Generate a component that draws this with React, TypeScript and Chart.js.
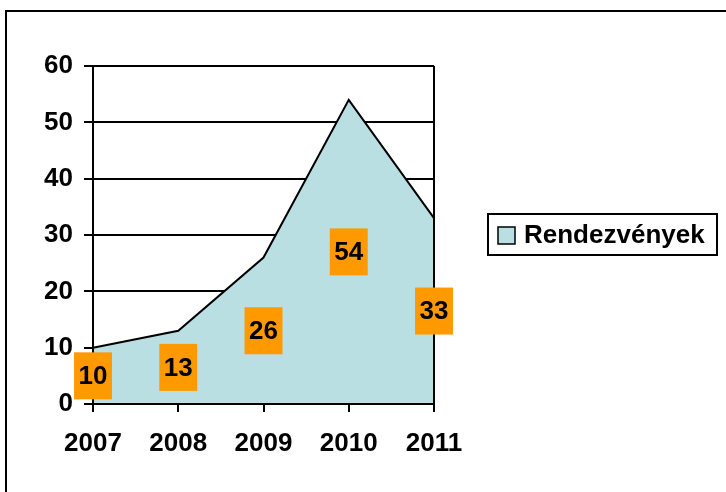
import React, { useEffect, useRef } from "react";
import { Chart, registerables } from "chart.js";

Chart.register(...registerables);

const categories = ["2007", "2008", "2009", "2010", "2011"];
const seriesName = "Rendezvények";
const values = [10, 13, 26, 54, 33];
const yTicks = [0, 10, 20, 30, 40, 50, 60];

const FONT = "'Liberation Sans', Arial, sans-serif";
const FILL = "#BADFE2";
const ORANGE = "#FF9900";

export default function App() {
  const ref = useRef<HTMLCanvasElement | null>(null);

  useEffect(() => {
    document.body.style.margin = "0";
    const canvas = ref.current!;
    const decor = {
      id: "decor",
      beforeDraw(chart: any) {
        const ctx = chart.ctx;
        ctx.save();
        ctx.fillStyle = "#fff";
        ctx.fillRect(0, 0, chart.width, chart.height);
        ctx.restore();
      },
      afterDatasetsDraw(chart: any) {
        const ctx = chart.ctx;
        const a = chart.chartArea;
        const ys = chart.scales.y;
        ctx.save();
        // axes and right border
        ctx.strokeStyle = "#000";
        ctx.lineWidth = 2;
        ctx.beginPath();
        ctx.moveTo(a.left, a.top);
        ctx.lineTo(a.left, a.bottom);
        ctx.lineTo(a.right, a.bottom);
        ctx.moveTo(a.right, a.top);
        ctx.lineTo(a.right, a.bottom);
        ctx.stroke();
        // data labels
        const meta = chart.getDatasetMeta(0);
        ctx.font = `bold 26px ${FONT}`;
        ctx.textAlign = "center";
        ctx.textBaseline = "middle";
        meta.data.forEach((pt: any, i: number) => {
          const v = values[i];
          const cx = pt.x;
          const cy = ys.getPixelForValue(v / 2);
          const txt = String(v);
          const w = ctx.measureText(txt).width + 9;
          const h = 47;
          ctx.fillStyle = ORANGE;
          ctx.fillRect(cx - w / 2, cy - h / 2, w, h);
          ctx.fillStyle = "#000";
          ctx.fillText(txt, cx, cy + 1);
        });
        // outer border
        ctx.lineWidth = 2;
        ctx.strokeRect(6, 11, 900, 700);
        // legend
        ctx.strokeRect(488, 214, 229, 41);
        ctx.fillStyle = FILL;
        ctx.fillRect(498, 227, 17, 17);
        ctx.lineWidth = 1.5;
        ctx.strokeRect(498, 227, 17, 17);
        ctx.fillStyle = "#000";
        ctx.textAlign = "left";
        ctx.textBaseline = "middle";
        ctx.fillText(seriesName, 524, 236);
        ctx.restore();
      },
    };

    const chart = new Chart(canvas, {
      type: "line",
      data: {
        labels: categories,
        datasets: [
          {
            label: seriesName,
            data: values,
            borderColor: "#000",
            borderWidth: 2,
            backgroundColor: FILL,
            fill: "origin",
            tension: 0,
            pointRadius: 0,
          },
        ],
      },
      options: {
        responsive: false,
        animation: false,
        layout: { padding: { top: 66, right: 292, left: 0, bottom: 0 } },
        plugins: { legend: { display: false }, tooltip: { enabled: false } },
        scales: {
          x: {
            offset: false,
            afterFit: (s: any) => {
              s.height = 88;
            },
            grid: {
              drawOnChartArea: false,
              drawTicks: true,
              tickLength: 8,
              tickColor: "#000",
              tickWidth: 2,
              color: "#000",
              lineWidth: 2,
            },
            border: { display: false },
            ticks: {
              color: "#000",
              font: { family: FONT, size: 26, weight: "bold" },
              padding: 16,
              maxRotation: 0,
            },
          },
          y: {
            min: 0,
            max: 60,
            afterFit: (s: any) => {
              s.width = 93;
            },
            afterBuildTicks: (s: any) => {
              s.ticks = yTicks.map((v) => ({ value: v }));
            },
            grid: {
              color: "#000",
              lineWidth: 2,
              drawTicks: true,
              tickLength: 9,
              tickColor: "#000",
              tickWidth: 2,
            },
            border: { display: false },
            ticks: {
              color: "#000",
              font: { family: FONT, size: 26, weight: "bold" },
              padding: 11,
            },
          },
        },
      },
      plugins: [decor],
    });
    return () => chart.destroy();
  }, []);

  return (
    <div style={{ width: 726, height: 492 }}>
      <canvas ref={ref} width={726} height={492} style={{ display: "block" }} />
    </div>
  );
}
